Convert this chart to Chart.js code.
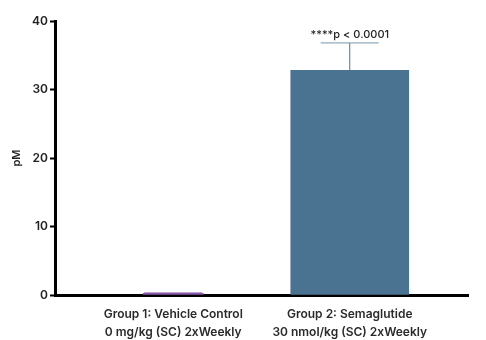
<!DOCTYPE html>
<html>
<head>
<meta charset="utf-8">
<script src="https://cdn.jsdelivr.net/npm/chart.js@4.4.0/dist/chart.umd.min.js"></script>
<style>
  html, body { margin: 0; padding: 0; background: #fff; }
  #wrap { width: 486px; height: 340px; }
</style>
</head>
<body>
<div id="wrap"><canvas id="pmChart" width="486" height="340"></canvas></div>
<script>
const groups = [
  ['Group 1: Vehicle Control', '0 mg/kg (SC) 2xWeekly'],
  ['Group 2: Semaglutide', '30 nmol/kg (SC) 2xWeekly']
];
const means = [0.25, 32.8];
const sems = [0.05, 4.0];
const barColors = ['#8a5aa8', '#4a7391'];
const capColors = ['#8a5aa8', '#7495ad'];
const barWidths = [60, 118];
const yTicks = [0, 10, 20, 30, 40];
const sigLabel = '****p < 0.0001';

// error bars plus the significance label over group 2
const errorBars = {
  id: 'errorBars',
  afterDatasetsDraw(chart) {
    const { ctx, scales: { x, y } } = chart;
    ctx.save();
    means.forEach((m, i) => {
      const cx = x.getPixelForValue(i + 1);
      const yTop = y.getPixelForValue(m + sems[i]);
      const yMid = y.getPixelForValue(m);
      ctx.strokeStyle = barColors[i];
      ctx.lineWidth = 1;
      ctx.beginPath();
      ctx.moveTo(cx, yMid);
      ctx.lineTo(cx, yTop);
      ctx.stroke();
      ctx.strokeStyle = capColors[i];
      ctx.beginPath();
      ctx.moveTo(cx - 29, yTop);
      ctx.lineTo(cx + 29, yTop);
      ctx.stroke();
    });
    const sx = x.getPixelForValue(2);
    const sy = y.getPixelForValue(means[1] + sems[1]);
    ctx.fillStyle = '#222';
    ctx.font = '500 11px Inter';
    ctx.textAlign = 'center';
    ctx.textBaseline = 'bottom';
    ctx.fillText(sigLabel, sx, sy - 3);
    ctx.restore();
  }
};

new Chart(document.getElementById('pmChart'), {
  type: 'bar',
  data: {
    // one dataset per group so each bar keeps its own width
    datasets: means.map((v, i) => ({
      data: [{ x: i + 1, y: v }],
      backgroundColor: barColors[i],
      barThickness: barWidths[i],
      borderWidth: 0
    }))
  },
  options: {
    responsive: false,
    animation: false,
    grouped: false,
    layout: { padding: { top: 21, right: 18, left: 0, bottom: 0 } },
    plugins: { legend: { display: false }, tooltip: { enabled: false } },
    scales: {
      x: {
        type: 'linear',
        offset: false,
        min: 0.33,
        max: 2.67,
        afterBuildTicks(scale) {
          scale.ticks = [{ value: 1 }, { value: 2 }];
        },
        afterFit(scale) { scale.height = 45; },
        grid: { display: false },
        border: { display: true, color: '#000', width: 3 },
        ticks: {
          autoSkip: false,
          maxRotation: 0,
          padding: 2,
          color: '#2a2a2a',
          font: { family: 'Inter', size: 12, weight: '600', lineHeight: 1.5 },
          callback: (v) => groups[v - 1]
        }
      },
      y: {
        min: 0,
        max: 40,
        afterBuildTicks(scale) {
          scale.ticks = yTicks.map(v => ({ value: v }));
        },
        afterFit(scale) { scale.width = 55; },
        grid: {
          drawOnChartArea: false,
          drawTicks: true,
          tickLength: 5,
          tickWidth: 2,
          tickColor: '#000'
        },
        border: { display: true, color: '#000', width: 3 },
        title: {
          display: true,
          text: 'pM',
          color: '#222',
          padding: { top: 10, bottom: 0 },
          font: { family: 'Inter', size: 11, weight: '600' }
        },
        ticks: {
          padding: 2,
          color: '#222',
          font: { family: 'Inter', size: 12, weight: '600' }
        }
      }
    }
  },
  plugins: [errorBars]
});
</script>
</body>
</html>
